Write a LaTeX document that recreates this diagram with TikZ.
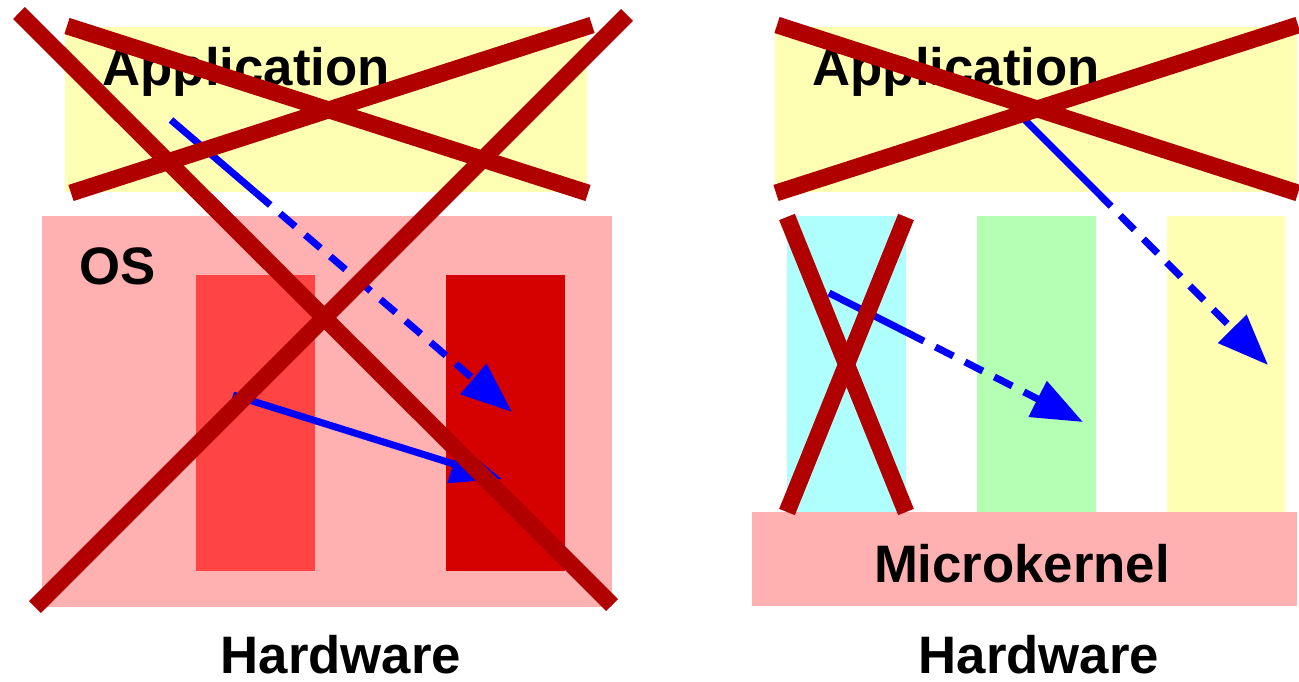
\documentclass[tikz,border=0pt]{standalone}
\usepackage{fontspec}
\setmainfont{Liberation Sans}
\usetikzlibrary{arrows.meta}
\definecolor{appyellow}{HTML}{FFFFB3}
\definecolor{ospink}{HTML}{FFB0B0}
\definecolor{drvred}{HTML}{FF4444}
\definecolor{drvdark}{HTML}{D50000}
\definecolor{srvcyan}{HTML}{B0FFFF}
\definecolor{srvgreen}{HTML}{B3FFB3}
\definecolor{crossred}{HTML}{B00000}

\begin{document}
\begin{tikzpicture}[
  lbl/.style={font=\fontsize{15}{18}\selectfont\bfseries, inner sep=0pt},
  cross/.style={draw=crossred, line width=4.8pt},
  flow/.style={draw=blue, line width=2pt},
  flowdash/.style={flow, dash pattern=on 5.7pt off 3.7pt, -{Triangle[length=14.5pt,width=11pt]}}
]
\useasboundingbox (0,0) rectangle (12.99,6.81);

% Izquierda: kernel monolitico
\fill[appyellow] (0.65,6.54) rectangle (5.87,4.89);
\fill[ospink] (0.42,4.65) rectangle (6.12,0.74);
\fill[drvred] (1.96,4.06) rectangle (3.15,1.10);
\fill[drvdark] (4.46,4.06) rectangle (5.65,1.10);
\node[lbl, anchor=base west] (appL) at (1.02,5.95) {Application};
\node[lbl, anchor=base west] (os) at (0.79,3.96) {OS};
\node[lbl, anchor=base] (hwL) at (3.41,0.08) {Hardware};
% llamadas
\coordinate (callL) at (1.71,5.61);
\coordinate (exitL) at (2.55,4.89);
\coordinate (drvtip) at (5.12,2.69);
\coordinate (drvsrc) at (2.33,2.86);
\coordinate (drvdst) at (5.02,2.02);
\draw[flow] (callL) -- (exitL);
\draw[flowdash] (exitL) -- (drvtip);
\draw[flow, -{Triangle[length=14.5pt,width=11pt]}] (drvsrc) -- (drvdst);
% cruces
\draw[cross] (0.67,6.55) -- (5.88,4.88);
\draw[cross] (0.71,4.88) -- (5.92,6.56);
\draw[cross] (0.19,6.68) -- (6.12,0.76);
\draw[cross] (6.27,6.66) -- (0.35,0.74);

% Derecha: microkernel
\fill[appyellow] (7.75,6.54) rectangle (12.97,4.89);
\fill[srvcyan] (7.87,4.65) rectangle (9.06,1.69);
\fill[srvgreen] (9.77,4.65) rectangle (10.96,1.69);
\fill[appyellow] (11.67,4.65) rectangle (12.85,1.69);
\fill[ospink] (7.52,1.69) rectangle (12.97,0.75);
\node[lbl, anchor=base west] (appR) at (8.12,5.95) {Application};
\node[lbl, anchor=base] (mk) at (10.22,0.99) {Microkernel};
\node[lbl, anchor=base] (hwR) at (10.39,0.08) {Hardware};
% llamadas
\coordinate (callR) at (10.25,5.61);
\coordinate (exitR) at (10.97,4.89);
\coordinate (srvtip) at (12.68,3.16);
\coordinate (cyansrc) at (8.29,3.88);
\coordinate (cyanexit) at (9.06,3.49);
\coordinate (greentip) at (10.83,2.59);
\draw[flow] (callR) -- (exitR);
\draw[flowdash] (exitR) -- (srvtip);
\draw[flow] (cyansrc) -- (cyanexit);
\draw[flowdash] (cyanexit) -- (greentip);
% cruces
\draw[cross] (7.77,6.56) -- (12.98,4.88);
\draw[cross] (7.76,4.88) -- (12.98,6.56);
\draw[cross] (7.87,4.64) -- (9.06,1.69);
\draw[cross] (9.06,4.64) -- (7.87,1.69);
\end{tikzpicture}
\end{document}
